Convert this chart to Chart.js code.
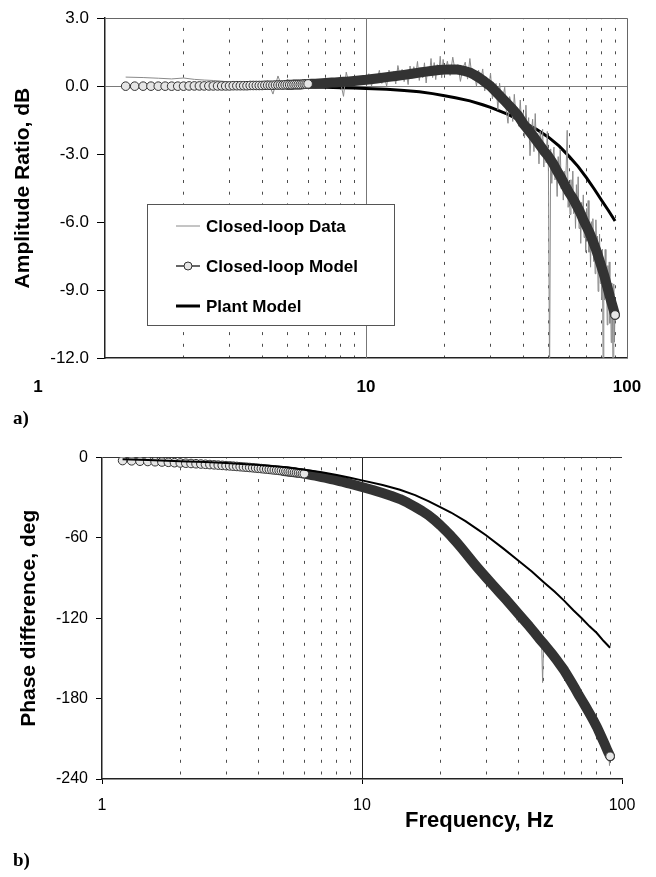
<!DOCTYPE html>
<html><head><meta charset="utf-8">
<script src="https://cdn.jsdelivr.net/npm/chart.js@4.4.1/dist/chart.umd.min.js"></script>
<style>
html,body{margin:0;padding:0;background:#fff;}
body{width:656px;height:877px;position:relative;overflow:hidden;}
canvas{position:absolute;left:0;}
#c1{top:0;}
#c2{top:440px;}
</style></head><body>
<canvas id="c1" width="656" height="440"></canvas>
<canvas id="c2" width="656" height="437"></canvas>
<script>
// ---------- data ----------
const seriesNames = ['Closed-loop Data', 'Closed-loop Model', 'Plant Model'];
const xGridValues = [1,2,3,4,5,6,7,8,9,10,20,30,40,50,60,70,80,90,100];
const xLabelValues = [1, 10, 100];
const xTickLabels = ['1', '10', '100'];
const ampTicks = [3, 0, -3, -6, -9, -12];
const phaseTicks = [0, -60, -120, -180, -240];

const modelFreq = [1.2,1.3,1.4,1.5,1.6,1.7,1.8,1.9,2.0,2.1,2.2,2.3,2.4,2.5,2.6,2.7,2.8,2.9,3.0,3.1,3.2,3.3,3.4,3.5,3.6,3.7,3.8,3.9,4.0,4.1,4.2,4.3,4.4,4.5,4.6,4.7,4.8,4.9,5.0,5.1,5.2,5.3,5.4,5.5,5.6,5.7,5.8,5.9,6.0,
  6.2,6.4,6.6,6.8,7.0,7.2,7.4,7.6,7.8,8.0,8.2,8.4,8.6,8.8,9.0,
  10,11,12,13,14,15,16,17,18,19,20,21,22,23,24,25,26,27,28,29,30,
  32,34,36,38,40,42,44,46,48,50,52,54,56,58,60,62,64,66,68,70,72,74,76,78,80,82,84,86,88,90];
const modelAmp = [0,0,0,0,0,0,0,0,0,
  0.01,0.01,0.01,0.01,0.01,0.01,0.01,0.01,0.01,0.01,
  0.02,0.02,0.02,0.02,0.02,0.03,0.03,0.03,0.03,0.03,
  0.04,0.04,0.04,0.04,0.05,0.05,0.05,0.05,0.06,0.06,0.06,0.06,0.07,0.07,0.07,0.07,0.08,0.09,0.09,0.10,
  0.11,0.11,0.12,0.13,0.14,0.15,0.16,0.16,0.17,0.18,0.19,0.20,0.21,0.22,0.23,
  0.28,0.34,0.40,0.45,0.50,0.55,0.60,0.64,0.68,0.71,0.73,0.74,0.74,0.71,0.66,0.60,0.50,0.39,0.26,0.12,0.00,
  -0.33,-0.65,-0.95,-1.25,-1.65,-1.95,-2.25,-2.55,-2.85,-3.10,-3.40,-3.75,-4.05,-4.40,-4.70,-4.95,-5.25,-5.55,-5.90,-6.20,-6.50,-6.85,-7.20,-7.60,-8.00,-8.40,-8.85,-9.30,-9.70,-10.10];
const modelPhase = [-2.2,-2.4,-2.7,-2.9,-3.1,-3.3,-3.5,-3.8,-4.0,
  -4.2,-4.4,-4.6,-4.8,-5.0,-5.2,-5.4,-5.6,-5.8,-6.0,
  -6.2,-6.4,-6.6,-6.8,-7.0,-7.2,-7.4,-7.6,-7.8,-8.0,
  -8.2,-8.4,-8.6,-8.8,-9.0,-9.2,-9.4,-9.6,-9.8,-10.0,
  -10.2,-10.4,-10.6,-10.8,-11.0,-11.2,-11.4,-11.6,-11.8,-12.0,
  -12.5,-13.0,-13.5,-14.0,-14.5,-15.0,-15.5,-16.0,-16.5,-17.0,-17.5,-18.0,-18.5,-19.0,-19.5,
  -22,-24.2,-26.5,-28.7,-31,-33.8,-36.8,-39.8,-43,-46.6,-50.5,-54.5,-58.6,-62.8,-67,-71.2,-75.3,-79.2,-82.8,-86.2,-89.4,
  -95.5,-101.2,-106.5,-111.8,-116.8,-121.5,-126,-130.5,-135,-139,-143,-147,-151,-155,-159,-163.5,-168,-172.5,-177,-181,-185,-189,-193,-197,-201,-205.5,-210,-214.5,-219,-223];

const dataFreq = [1.2,1.4,1.6,1.8,2.0,2.2,2.4,2.6,2.8,3.0,3.2,3.4,3.6,3.8,4.0,4.2,4.4,4.6,4.8,5.0,5.2,5.4,5.6,5.8,6.0,6.2,6.4,6.6,6.8,7.0,7.2,7.4,7.6,7.8,8.0,8.2,8.4,8.6,8.8,9.0,9.2,9.4,9.6,9.8,10.0,
  10.25,10.5,10.75,11,11.25,11.5,11.75,12,12.25,12.5,12.75,13,13.25,13.5,13.75,14,14.25,14.5,14.75,15,15.25,15.5,15.75,16,16.25,16.5,16.75,17,17.25,17.5,17.75,18,18.25,18.5,18.75,19,19.25,19.5,19.75,20,
  20.5,21,21.5,22,22.5,23,23.5,24,24.5,25,25.5,26,26.5,27,27.5,28,28.5,29,29.5,30,
  30.5,31,31.5,32,32.5,33,33.5,34,34.5,35,35.5,36,36.5,37,37.5,38,38.5,39,39.5,40,
  40.5,41,41.5,42,42.5,43,43.5,44,44.5,45,45.5,46,46.5,47,47.5,48,48.5,49,49.5,50,
  50.5,51,51.5,52,52.5,53,53.5,54,54.5,55,55.5,56,56.5,57,57.5,58,58.5,59,59.5,60,
  60.5,61,61.5,62,62.5,63,63.5,64,64.5,65,65.5,66,66.5,67,67.5,68,68.5,69,69.5,70,
  70.5,71,71.5,72,72.5,73,73.5,74,74.5,75,75.5,76,76.5,77,77.5,78,78.5,79,79.5,80,
  80.5,81,81.5,82,82.5,83,83.5,84,84.5,85,85.5,86,86.5,87,87.5,88,88.5,89,89.5,90];
const dataAmp = [0.40,0.38,0.35,0.32,0.36,0.30,0.27,0.25,0.22,0.18,
  0.15,0.12,0.08,0.05,-0.05,0.25,-0.35,0.45,-0.15,0.30,
  0.12,0.05,0.15,0.02,0.12,0.18,0.05,0.16,0.10,0.20,
  0.12,0.22,0.10,0.25,0.14,-0.45,0.62,0.15,0.35,0.18,
  0.30,0.20,0.38,0.22,0.30,
  0.55,0.01,0.48,0.24,0.70,0.12,0.43,0.00,0.71,0.27,0.64,0.10,0.91,0.42,0.74,0.20,0.61,0.07,0.89,0.35,
  0.86,0.47,1.09,0.25,0.76,0.37,1.03,0.14,0.85,0.51,1.22,0.38,1.04,0.29,0.95,0.51,1.32,0.37,1.18,0.48,
  1.10,0.47,1.28,0.60,0.96,0.21,0.78,1.06,0.31,1.22,
  0.37,0.64,0.00,0.71,0.24,0.76,-0.21,0.30,-0.17,0.58,
  -0.56,-0.09,0.12,-1.05,0.13,-0.68,-0.46,-0.05,-1.09,-1.64,
  -0.46,-0.77,-1.56,-0.36,-1.23,-0.95,-1.77,-0.61,-1.79,-1.17,
  -2.29,-0.84,-2.12,-1.39,-3.07,-2.02,-1.46,-2.89,-1.21,-2.72,
  -2.08,-3.43,-1.99,-2.86,-1.90,-3.57,-2.59,-3.38,-2.00,-3.74,
  -13.0,-2.77,-4.29,-3.16,-2.69,-4.14,-3.50,-4.87,-3.11,-4.22,
  -2.78,-4.53,-3.74,-5.03,-3.75,-4.64,-3.52,-1.95,-5.35,-4.38,
  -5.66,-4.13,-5.19,-3.75,-5.63,-4.90,-6.28,-4.35,-5.73,-4.00,
  -6.28,-5.25,-6.94,-5.13,-6.01,-4.80,-6.68,-5.55,-7.33,-5.40,
  -6.68,-5.05,-7.33,-6.40,-7.99,-5.98,-7.26,-5.85,-7.74,-6.63,
  -8.28,-5.90,-7.82,-6.62,-9.06,-7.21,-6.53,-8.71,-7.25,-9.43,
  -7.19,-12.5,-7.78,-9.44,-7.21,-9.28,-8.48,-10.54,-7.92,-9.47,
  -7.76,-10.47,-8.75,-11.32,-8.69,-10.22,-13.3,-8.73,-11.30,-9.70];
const dataPhase = [-2.0,-2.9,-3.0,-3.7,-3.8,-4.6,-4.7,-5.4,-5.5,-6.2,
  -6.3,-7.0,-7.1,-7.8,-7.9,-8.7,-8.6,-9.5,-9.4,-10.3,
  -10.1,-11.2,-10.9,-11.9,-11.7,-12.9,-12.7,-13.9,-13.6,-15.0,
  -14.6,-16.0,-15.5,-17.1,-16.5,-18.2,-17.4,-19.3,-18.3,-20.3,
  -19.2,-21.4,-20.2,-22.5,-21.2,
  -21.4,-24.1,-23.4,-25.9,-24.2,-26.1,-24.9,-28.0,-27.1,-29.2,-27.7,-29.5,-28.2,-30.9,-30.3,-32.5,-30.8,-33.1,-31.9,-34.2,
  -34.2,-37.1,-35.5,-37.9,-37.8,-40.4,-38.6,-41.7,-41.6,-44.2,-42.7,-45.3,-44.2,-46.6,-46.6,-49.5,-47.8,-50.1,-49.0,-51.9,
  -51.0,-57.5,-56.0,-60.5,-58.2,-63.8,-63.4,-69.9,-68.3,-72.3,
  -69.9,-75.0,-73.9,-80.1,-78.7,-82.5,-80.1,-85.4,-85.0,-91.0,
  -87.3,-92.2,-91.7,-96.4,-92.6,-98.7,-98.1,-102.8,-99.7,-103.6,
  -102.0,-108.1,-106.3,-111.8,-109.4,-112.9,-110.3,-116.5,-121.6,-115.5,
  -121.6,-117.3,-124.9,-117.7,-124.1,-119.3,-127.7,-125.0,-131.9,-125.1,
  -130.2,-126.5,-135.2,-130.4,-138.9,-133.4,-138.0,-132.6,-168.0,-136.2,
  -144.0,-139.8,-145.0,-138.4,-145.8,-141.6,-150.6,-146.4,-151.2,-144.8,
  -152.4,-149.0,-157.0,-150.0,-155.0,-150.2,-159.8,-155.6,-160.6,-155.4,
  -164.5,-159.1,-163.6,-159.5,-168.0,-165.0,-171.7,-165.0,-171.1,-165.7,
  -174.4,-170.7,-178.6,-172.2,-177.5,-172.8,-181.6,-178.0,-184.2,-177.6,
  -184.4,-178.2,-187.0,-184.6,-190.6,-184.2,-189.4,-185.0,-195.0,-189.0,
  -194.8,-188.6,-197.6,-193.8,-200.8,-193.8,-199.0,-194.4,-203.4,-198.8,
  -207.1,-199.5,-206.4,-203.9,-210.8,-203.0,-211.9,-209.2,-216.1,-208.9,
  -215.8,-210.1,-219.6,-214.2,-222.9,-217.2,-226.5,-217.0,-230.0,-221.0];

const plantFreq = [1.2,1.5,2,2.5,3,4,5,6,7,8,9,10,12,14,16,18,20,22,25,28,30,35,40,45,50,55,60,65,70,75,80,85,90];
const plantAmp = [0,0,-0.01,-0.01,-0.01,-0.02,-0.03,-0.04,-0.05,-0.07,-0.08,-0.10,-0.14,-0.19,-0.25,-0.33,-0.42,-0.51,-0.65,-0.82,-0.94,-1.25,-1.59,-1.90,-2.25,-2.65,-3.10,-3.55,-4.05,-4.55,-5.05,-5.50,-5.95];
const plantPhase = [-1.3,-1.8,-2.7,-3.3,-4,-5.5,-7,-9,-11,-13,-15,-17,-20.5,-24,-28,-32.5,-37,-41,-47.5,-54,-58,-68,-77,-85,-93,-100,-107,-114,-120,-126,-131,-137,-142];

// ---------- helpers ----------
Chart.defaults.font.family = "'Liberation Sans', Arial, Helvetica, sans-serif";
Chart.defaults.color = '#000';
const pts = (xs, ys) => xs.map((x, i) => ({x: x, y: ys[i]}));
const tickVal = c => (c && c.tick) ? c.tick.value : null;

function xScale(height, drawTicks) {
  return {
    type: 'logarithmic', min: 1, max: 100,
    afterBuildTicks: s => { s.ticks = xGridValues.map(v => ({value: v})); },
    afterFit: s => { s.height = height; },
    ticks: {display: false},
    grid: {
      color: c => { const v = tickVal(c); return (v === 1 || v === 10 || v === 100) ? 'transparent' : '#4d4d4d'; },
      lineWidth: 1,
      drawTicks: drawTicks,
      tickLength: 5,
      tickWidth: 1,
      tickColor: c => xLabelValues.includes(tickVal(c)) ? '#000' : 'transparent'
    },
    border: {display: true, color: '#222', width: 1.5, dash: [3, 8.7], dashOffset: 2}
  };
}

function modelPointRadius(c) {
  const i = c.dataIndex;
  return (modelFreq[i] <= 6.01 || i === modelFreq.length - 1) ? 4.3 : 0;
}

function modelDataset(values, band, order) {
  return {
    label: seriesNames[1], data: pts(modelFreq, values),
    borderColor: '#333', borderWidth: 1, tension: 0,
    borderCapStyle: 'round', borderJoinStyle: 'round',
    segment: {borderWidth: c => modelFreq[c.p0DataIndex] >= 4.95 ? band : 1},
    pointRadius: modelPointRadius, pointHoverRadius: 0,
    pointBackgroundColor: '#e6e6e6', pointBorderColor: '#333', pointBorderWidth: 1,
    order: order
  };
}

const framePlugin = {
  id: 'frameDeco',
  beforeDatasetsDraw(chart, args, o) {
    const {ctx, chartArea: a, scales: {x}} = chart;
    ctx.save();
    ctx.lineWidth = 1;
    ctx.strokeStyle = o.decadeColor;
    const px = Math.round(x.getPixelForValue(10)) + 0.5;
    ctx.beginPath(); ctx.moveTo(px, a.top); ctx.lineTo(px, a.bottom); ctx.stroke();
    if (o.rightBorder) {
      const rx = Math.round(a.right) + 0.5;
      ctx.strokeStyle = o.rightBorder;
      ctx.beginPath(); ctx.moveTo(rx, a.top); ctx.lineTo(rx, a.bottom); ctx.stroke();
    }
    ctx.restore();
  },
  afterDatasetsDraw(chart, args, o) {
    if (!o.legend) return;
    const ctx = chart.ctx;
    const L = o.legend;
    ctx.save();
    ctx.fillStyle = '#fff';
    ctx.fillRect(L.x, L.y, L.w, L.h);
    ctx.strokeStyle = '#555'; ctx.lineWidth = 1;
    ctx.strokeRect(L.x + 0.5, L.y + 0.5, L.w, L.h);
    ctx.font = "bold 17px 'Liberation Sans', Arial, sans-serif";
    ctx.fillStyle = '#000'; ctx.textAlign = 'left'; ctx.textBaseline = 'alphabetic';
    seriesNames.forEach((name, i) => {
      const sy = L.y + 22 + i * 40;
      ctx.beginPath();
      if (i === 0) { ctx.strokeStyle = '#8a8a8a'; ctx.lineWidth = 1; }
      else if (i === 1) { ctx.strokeStyle = '#333'; ctx.lineWidth = 1.5; }
      else { ctx.strokeStyle = '#000'; ctx.lineWidth = 3; }
      ctx.moveTo(L.x + 29, sy); ctx.lineTo(L.x + 53, sy); ctx.stroke();
      if (i === 1) {
        ctx.beginPath(); ctx.arc(L.x + 41, sy, 4, 0, Math.PI * 2);
        ctx.fillStyle = '#e6e6e6'; ctx.fill();
        ctx.strokeStyle = '#333'; ctx.lineWidth = 1; ctx.stroke();
        ctx.fillStyle = '#000';
      }
      ctx.fillText(name, L.x + 59, sy + 6);
    });
    ctx.restore();
  },
  afterDraw(chart, args, o) {
    const {ctx, scales: {x}} = chart;
    ctx.save();
    ctx.fillStyle = '#000';
    ctx.textBaseline = 'alphabetic';
    ctx.textAlign = 'center';
    ctx.font = o.tickFont;
    xLabelValues.forEach((v, i) => {
      ctx.fillText(xTickLabels[i], x.getPixelForValue(v) + (o.labelShift[i] || 0), o.tickBaseline);
    });
    if (o.xTitle) {
      ctx.font = "bold 22px 'Liberation Sans', Arial, sans-serif";
      ctx.textAlign = 'left';
      ctx.fillText(o.xTitle, o.xTitleX, o.xTitleBaseline);
    }
    ctx.font = "bold 19px 'Liberation Serif', 'Times New Roman', serif";
    ctx.textAlign = 'left';
    ctx.fillText(o.panel, 13, o.panelBaseline);
    ctx.restore();
  }
};

const common = {
  responsive: false, maintainAspectRatio: false, animation: false, devicePixelRatio: 1,
  events: []
};

// ---------- top chart: amplitude ratio ----------
new Chart(document.getElementById('c1'), {
  type: 'line',
  data: { datasets: [
    { label: seriesNames[0], data: pts(dataFreq, dataAmp), borderColor: '#8a8a8a', borderWidth: 1,
      pointRadius: 0, tension: 0, order: 1 },
    modelDataset(modelAmp, 10, 0),
    { label: seriesNames[2], data: pts(plantFreq, plantAmp), borderColor: '#000', borderWidth: 3,
      pointRadius: 0, tension: 0, order: 2 }
  ]},
  options: Object.assign({}, common, {
    layout: {padding: {top: 11, right: 29, left: 0, bottom: 0}},
    scales: {
      x: xScale(82, false),
      y: {
        min: -12, max: 3,
        afterBuildTicks: s => { s.ticks = ampTicks.map(v => ({value: v})); },
        afterFit: s => { s.width = 105; },
        ticks: {callback: v => Number(v).toFixed(1), font: {size: 17}, color: '#000', padding: 8},
        grid: {
          color: c => { const v = tickVal(c); return v === 0 ? '#7a7a7a' : (v === 3 ? '#666' : 'transparent'); },
          lineWidth: 1, drawTicks: true, tickLength: 8, tickColor: '#000', tickWidth: 1
        },
        border: {display: true, color: '#222', width: 1.5},
        title: {display: true, text: 'Amplitude Ratio, dB', color: '#000',
          font: {size: 21, weight: 'bold'}, padding: {top: 11, bottom: 0}}
      }
    },
    plugins: {
      legend: {display: false}, tooltip: {enabled: false},
      frameDeco: {
        decadeColor: '#777', rightBorder: '#666',
        legend: {x: 147, y: 204, w: 247, h: 121},
        tickFont: "bold 17px 'Liberation Sans', Arial, sans-serif",
        labelShift: [-67, 0, 0], tickBaseline: 392,
        panel: 'a)', panelBaseline: 424
      }
    }
  }),
  plugins: [framePlugin]
});

// ---------- bottom chart: phase difference ----------
new Chart(document.getElementById('c2'), {
  type: 'line',
  data: { datasets: [
    { label: seriesNames[0], data: pts(dataFreq, dataPhase), borderColor: '#8a8a8a', borderWidth: 1,
      pointRadius: 0, tension: 0, order: 2 },
    modelDataset(modelPhase, 10, 1),
    { label: seriesNames[2], data: pts(plantFreq, plantPhase), borderColor: '#000', borderWidth: 2,
      pointRadius: 0, tension: 0, order: 0 }
  ]},
  options: Object.assign({}, common, {
    layout: {padding: {top: 15, right: 34, left: 0, bottom: 0}},
    scales: {
      x: xScale(98, true),
      y: {
        min: -240, max: 0,
        afterBuildTicks: s => { s.ticks = phaseTicks.map(v => ({value: v})); },
        afterFit: s => { s.width = 102; },
        ticks: {callback: v => String(v), font: {size: 16}, color: '#000', padding: 8},
        grid: {
          color: c => tickVal(c) === 0 ? '#333' : 'transparent',
          lineWidth: 1, drawTicks: true, tickLength: 6, tickColor: '#000', tickWidth: 1
        },
        border: {display: true, color: '#222', width: 1.5},
        title: {display: true, text: 'Phase difference, deg', color: '#000',
          font: {size: 21, weight: 'bold'}, padding: {top: 17, bottom: 0}}
      }
    },
    plugins: {
      legend: {display: false}, tooltip: {enabled: false},
      frameDeco: {
        decadeColor: '#222', rightBorder: null, legend: null,
        tickFont: "16px 'Liberation Sans', Arial, sans-serif",
        labelShift: [0, 0, 0], tickBaseline: 370,
        xTitle: 'Frequency, Hz', xTitleX: 405, xTitleBaseline: 387,
        panel: 'b)', panelBaseline: 426
      }
    }
  }),
  plugins: [framePlugin]
});
</script>
</body></html>
